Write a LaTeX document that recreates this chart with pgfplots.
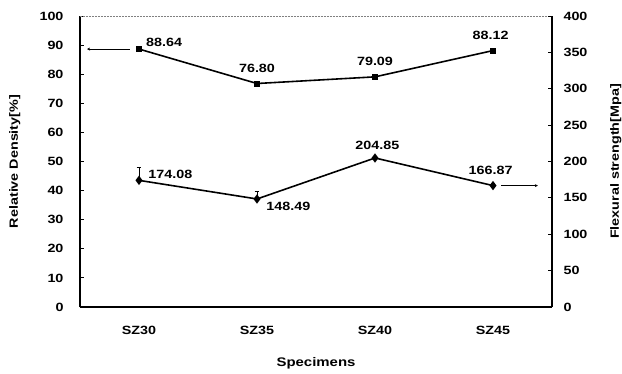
\documentclass[border=0pt]{standalone}
\usepackage{pgfplots}
\pgfplotsset{compat=1.18}
\usepackage{fontspec}
\setmainfont{Liberation Sans}[FakeStretch=1.2]
\usetikzlibrary{arrows.meta}
\begin{document}
\begin{tikzpicture}
\pgfplotsset{every axis/.append style={
  scale only axis, width=472bp, height=291bp,
  xmin=-0.5, xmax=3.5,
  font=\fontsize{12}{14}\selectfont\bfseries,
  /pgf/number format/assume math mode=true,
  tick align=inside,
  major tick length=4bp,
  tick style={line width=0.9pt, black},
}}
\begin{axis}[
  at={(0,0)}, anchor=south west,
  ymin=0, ymax=100,
  axis y line*=left, axis x line*=bottom,
  axis line style={line width=1.5pt, -},
  ytick={0,10,...,100},
  xtick={0,1,2,3},
  xticklabels={SZ30,SZ35,SZ40,SZ45},
  xtick style={draw=none},
  minor xtick={0.5,1.5,2.5},
  minor tick length=5bp,
  minor tick style={line width=0.9pt, black},
  xticklabel style={yshift=-16bp},
  yticklabel style={xshift=-13bp},
  xlabel={Specimens},
  xlabel style={at={(axis description cs:0.5,-0.192)}, anchor=center, font=\fontsize{12.5}{14}\selectfont\bfseries},
  ylabel={Relative Density[\%]},
  ylabel style={at={(axis description cs:-0.138,0.5)}, anchor=center},
  clip=false,
]
\addplot[black, line width=1.6pt, mark=square*, mark size=2.2pt] coordinates {(0,88.64) (1,76.80) (2,79.09) (3,88.12)};
\node[anchor=south west, inner sep=1pt] at (axis cs:0.05,88.9) {88.64};
\node[anchor=south, inner sep=1pt] at (axis cs:1,80.2) {76.80};
\node[anchor=south, inner sep=1pt] at (axis cs:2,82.6) {79.09};
\node[anchor=south, inner sep=1pt] at (axis cs:2.98,91.5) {88.12};
\draw[black, line width=0.6pt, -{Stealth[length=3pt,width=3pt]}] (axis cs:-0.08,88.64) -- (axis cs:-0.44,88.64);
\draw[gray, densely dotted, line width=0.5pt] (axis cs:-0.5,100) -- (axis cs:3.5,100);
\end{axis}
\begin{axis}[
  at={(0,0)}, anchor=south west,
  ymin=0, ymax=400,
  axis y line*=right, axis x line=none,
  axis line style={line width=1.5pt, -},
  ytick={0,50,...,400},
  yticklabel style={xshift=8bp},
  ylabel={Flexural strength[Mpa]},
  ylabel style={at={(axis description cs:1.135,0.5)}, anchor=center},
  clip=false,
]
\addplot[black, line width=1.6pt, mark=diamond*, mark size=3.4pt,
  error bars/.cd, y dir=plus, y explicit, error mark options={black, line width=0.6pt, rotate=90, mark size=2.5pt}, error bar style={line width=0.6pt}]
  coordinates {(0,174.08) +- (0,18) (1,148.49) +- (0,10) (2,204.85) +- (0,0) (3,166.87) +- (0,0)};
\node[anchor=south west, inner sep=1pt] at (axis cs:0.07,174.5) {174.08};
\node[anchor=north west, inner sep=1pt] at (axis cs:1.07,146) {148.49};
\node[anchor=south, inner sep=1pt] at (axis cs:2.02,215) {204.85};
\node[anchor=south, inner sep=1pt] at (axis cs:2.98,180) {166.87};
\draw[black, line width=0.6pt, -{Stealth[length=3pt,width=3pt]}] (axis cs:3.07,166.87) -- (axis cs:3.38,166.87);
\end{axis}
\pgfresetboundingbox
\path (-80bp,-67bp) rectangle (542bp,307bp);
\end{tikzpicture}
\end{document}
